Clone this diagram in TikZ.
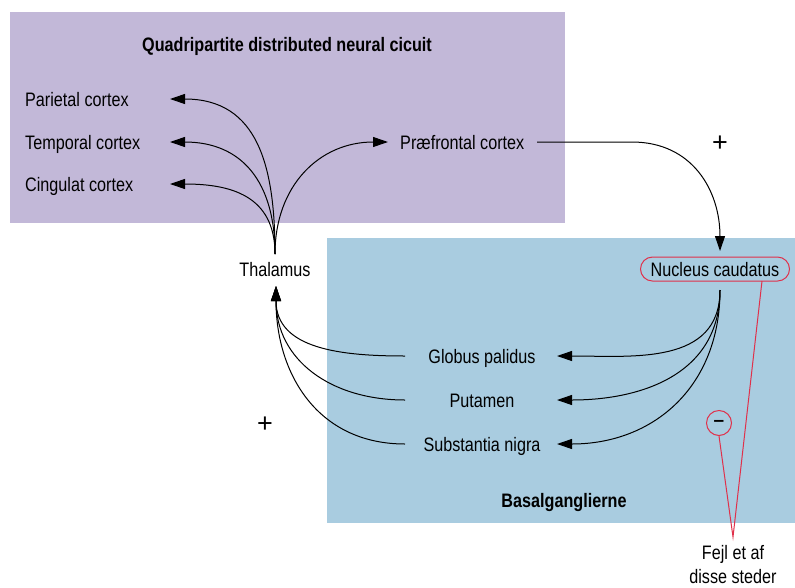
\documentclass[tikz,border=0pt]{standalone}
\usepackage{fontspec}
\setmainfont{Liberation Sans}[FakeStretch=0.83]
\newfontfamily\signfont{Liberation Sans}
\usetikzlibrary{arrows.meta}
\definecolor{purp}{HTML}{C2B8D8}
\definecolor{blu}{HTML}{A9CCE0}
\definecolor{redl}{HTML}{E0304A}
\begin{document}
\begin{tikzpicture}[x=1pt,y=-1pt,
  lbl/.style={inner sep=0pt, anchor=base, font=\fontsize{19.5}{22}\selectfont},
  ttl/.style={inner sep=0pt, anchor=base, font=\fontsize{19.5}{22}\selectfont\bfseries},
  sign/.style={inner sep=0pt, font=\signfont\fontsize{27}{30}\selectfont},
  conn/.style={line width=1pt, -{Triangle[length=15pt,width=10pt]}},
  redline/.style={draw=redl, line width=1pt}]
\useasboundingbox (0,0) rectangle (795,587);
\fill[purp] (10,12) rectangle (565,223);
\fill[blu] (327,238) rectangle (795,523);

% texts
\node[ttl] (title) at (287,51) {Quadripartite distributed neural cicuit};
\node[ttl] (bas) at (564,507) {Basalganglierne};
\node[lbl, anchor=base west] (par) at (25,106) {Parietal cortex};
\node[lbl, anchor=base west] (tem) at (25,149) {Temporal cortex};
\node[lbl, anchor=base west] (cin) at (25,191) {Cingulat cortex};
\node[lbl, anchor=base west] (pf) at (400,149) {Præfrontal cortex};
\node[lbl] (thal) at (275,276) {Thalamus};
\node[lbl, redline, rounded corners=12pt, inner xsep=9pt, minimum height=24pt, minimum width=149pt] (nc) at (715,276) {Nucleus caudatus};
\node[lbl] (gp) at (482,363) {Globus palidus};
\node[lbl] (put) at (482,407) {Putamen};
\node[lbl] (sn) at (482,451) {Substantia nigra};
\node[sign] (plusA) at (720,143.5) {+};
\node[sign] (plusB) at (265,425) {+};
\node[redline, circle, minimum size=25pt, inner sep=0pt, font=\signfont\fontsize{19}{22}\selectfont\bfseries] (minus) at (719,423) {–};
\node[lbl] (fejlA) at (733,559) {Fejl et af};
\node[lbl] (fejlB) at (733,583.5) {disse steder};

% anchor points
\coordinate (thN) at (275,254);
\coordinate (thS) at (276,286);
\coordinate (parT) at (170,99);
\coordinate (temT) at (170,142);
\coordinate (cinT) at (170,184);
\coordinate (pfT) at (388,142);
\coordinate (pfL) at (537,142);
\coordinate (pfBend) at (632,142);
\coordinate (ncT) at (720,251);
\coordinate (ncS) at (720,290);
\coordinate (gpT) at (557,356);
\coordinate (putT) at (557,400);
\coordinate (snT) at (557,444);
\coordinate (gpL) at (405,356);
\coordinate (putL) at (405,400);
\coordinate (snL) at (405,444);
\coordinate (ncB) at (762,281);
\coordinate (apex) at (733,537);

% thalamus to cortices
\draw[conn] (thN) to[out=90,in=0,looseness=1.2] (parT);
\draw[conn] (thN) to[out=90,in=0,looseness=1.2] (temT);
\draw[conn] (thN) to[out=90,in=0,looseness=1.2] (cinT);
\draw[conn] (thN) to[out=90,in=180,looseness=1.1] (pfT);

% praefrontal to nucleus caudatus
\draw[conn] (pfL) -- (pfBend) to[out=0,in=90,looseness=1.1] (ncT);

% nucleus caudatus to basal structures
\draw[conn] (ncS) to[out=270,in=0,looseness=1.1] (gpT);
\draw[conn] (ncS) to[out=270,in=0,looseness=1.1] (putT);
\draw[conn] (ncS) to[out=270,in=0,looseness=1.1] (snT);

% basal structures to thalamus
\draw[conn] (gpL) to[out=180,in=270,looseness=1.1] (thS);
\draw[conn] (putL) to[out=180,in=270,looseness=1.1] (thS);
\draw[conn] (snL) to[out=180,in=270,looseness=1.1] (thS);

% red pointers
\draw[redline] (minus.south) -- (apex) -- (ncB);
\end{tikzpicture}
\end{document}
